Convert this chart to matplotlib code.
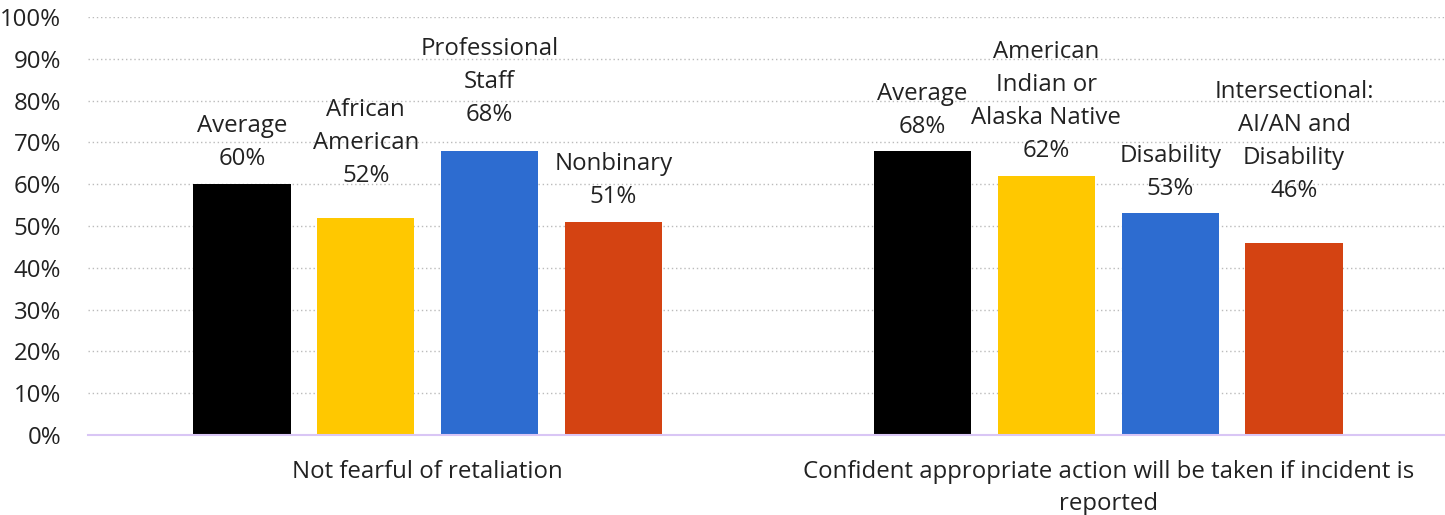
import matplotlib
matplotlib.use("Agg")
import matplotlib.pyplot as plt
import numpy as np

plt.rcParams['font.family'] = ['Open Sans', 'DejaVu Sans']

categories = ["Not fearful of retaliation",
              "Confident appropriate action will be taken if incident is\nreported"]
group_labels = [
    ["Average", "African\nAmerican", "Professional\nStaff", "Nonbinary"],
    ["Average", "American\nIndian or\nAlaska Native", "Disability", "Intersectional:\nAI/AN and\nDisability"],
]
values = [
    [60, 52, 68, 51],
    [68, 62, 53, 46],
]
colors = ["#000000", "#FFC800", "#2D6CD0", "#D44312"]
yticks = list(range(0, 101, 10))

# label vertical offsets (points) as placed in the original
label_offsets = [
    [9.5, 21.5, 17.5, 9.5],
    [9.0, 9.8, 9.5, 29.0],
]

fig = plt.figure(figsize=(14.45, 5.15), dpi=100)
left_px, right_px = 87.5, 1448.5
ax = fig.add_axes([left_px/1445, 1 - 435/515, (right_px - left_px)/1445, (435 - 17)/515])

width = 0.143
pitch = 0.182
fs = 17.3
for ci, (labs, vals) in enumerate(zip(group_labels, values)):
    for i, (lab, v) in enumerate(zip(labs, vals)):
        x = ci + (i - 1.5) * pitch
        ax.bar(x, v, width=width, color=colors[i], zorder=3)
        ax.annotate(f"{lab}\n{v}%", (x, v), xytext=(0, label_offsets[ci][i] - 0.3),
                    textcoords="offset points",
                    ha="center", va="bottom", multialignment="center",
                    fontsize=fs, color="#222222", linespacing=1.5)

ax.set_xlim(-0.5, 1.5)
ax.set_ylim(0, 100)
ax.set_yticks(yticks)
ax.set_yticklabels([f"{t}%" for t in yticks], fontsize=fs, color="#222222")
ax.set_xticks([0, 1])
ax.set_xticklabels(categories, fontsize=fs, color="#222222", linespacing=1.45)
ax.tick_params(axis="y", length=0, pad=19)
ax.tick_params(axis="x", length=0, pad=18)
ax.grid(axis="y", linestyle=(0, (1, 2)), color="#BBBBBB", linewidth=1, zorder=0)
for s in ["top", "right", "left"]:
    ax.spines[s].set_visible(False)
ax.spines["bottom"].set_color("#D9C6F5")
ax.spines["bottom"].set_linewidth(1.5)
ax.spines["bottom"].set_zorder(4)

fig.savefig("out.png", dpi=100)
